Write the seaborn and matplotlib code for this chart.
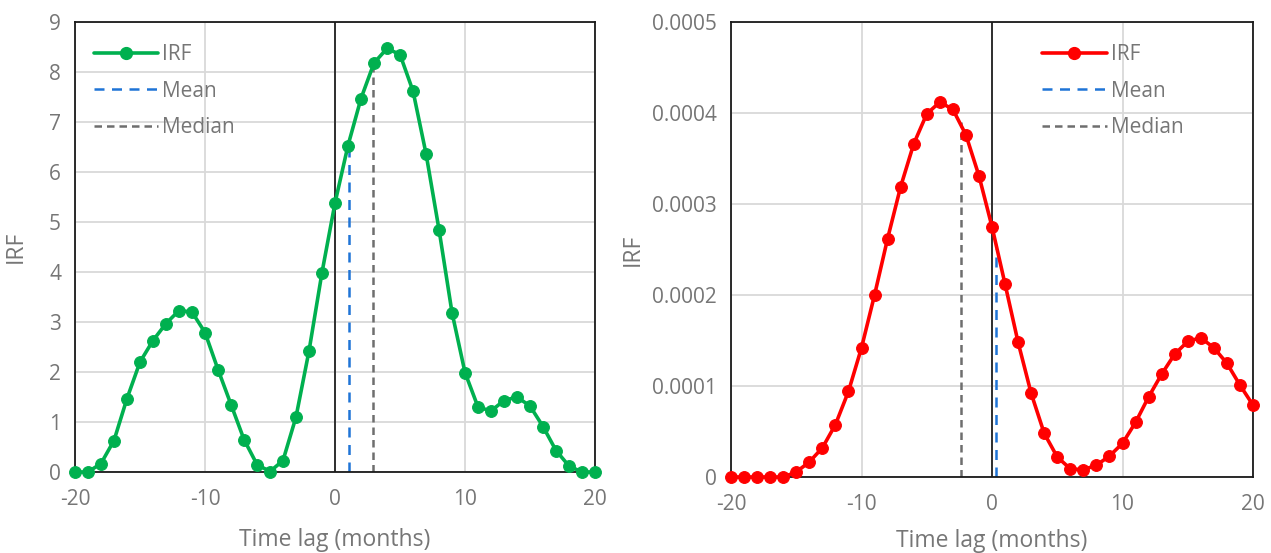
import numpy as np
import pandas as pd
import seaborn as sns
import matplotlib.pyplot as plt
from matplotlib.lines import Line2D

lags = list(range(-20, 21))

irf_left = [0, 0, 0.17, 0.63, 1.47, 2.2, 2.63, 2.97, 3.23, 3.2, 2.79,
            2.05, 1.35, 0.65, 0.15, 0.01, 0.23, 1.1, 2.42, 3.99, 5.38,
            6.53, 7.47, 8.18, 8.47, 8.35, 7.62, 6.37, 4.85, 3.19, 1.99,
            1.3, 1.22, 1.43, 1.5, 1.32, 0.91, 0.43, 0.12, 0, 0]
mean_left, mean_left_top = 1.08, 6.6
median_left, median_left_top = 2.9, 8.13

irf_right = [0, 0, 0, 0, 0, 0.055e-4, 0.165e-4, 0.32e-4, 0.575e-4, 0.94e-4,
             1.42e-4, 2.0e-4, 2.62e-4, 3.19e-4, 3.66e-4, 3.99e-4, 4.12e-4,
             4.04e-4, 3.76e-4, 3.31e-4, 2.75e-4, 2.12e-4, 1.48e-4, 0.92e-4,
             0.48e-4, 0.22e-4, 0.09e-4, 0.08e-4, 0.13e-4, 0.23e-4, 0.37e-4,
             0.6e-4, 0.88e-4, 1.13e-4, 1.35e-4, 1.49e-4, 1.53e-4, 1.42e-4,
             1.25e-4, 1.01e-4, 0.79e-4]
mean_right, mean_right_top = 0.33, 2.51e-4
median_right, median_right_top = -2.4, 3.9e-4

sns.set_style("white")
plt.rcParams['font.family'] = ['Open Sans', 'DejaVu Sans']
plt.rcParams['axes.unicode_minus'] = False
text_gray = '#767676'
grid_gray = '#d9d9d9'
blue = '#1f74d6'
dgray = '#6e6e6e'

fig = plt.figure(figsize=(12.71, 5.53), dpi=100)
ax1 = fig.add_axes([75 / 1271, 1 - 472 / 553, 520 / 1271, 450 / 553])
ax2 = fig.add_axes([731 / 1271, 1 - 477 / 553, 522 / 1271, 455 / 553])


def draw(ax, irf, color, mean, mean_top, median, median_top, ymax, ystep, fmt, legend_anchor, xlabelpad):
    df = pd.DataFrame({'lag': lags, 'irf': irf})
    ax.set_axisbelow(True)
    ax.grid(True, color=grid_gray, linewidth=1.3)
    ax.axvline(0, color='black', linewidth=1.1, zorder=1)
    ax.plot([mean, mean], [0, mean_top], color=blue, linestyle=(0, (4, 3)), linewidth=1.8, zorder=2)
    ax.plot([median, median], [0, median_top], color=dgray, linestyle=(0, (3, 2)), linewidth=1.8, zorder=2)
    sns.lineplot(data=df, x='lag', y='irf', ax=ax, color=color, linewidth=2.6,
                 marker='o', markersize=8.5, markeredgecolor=color, zorder=3, clip_on=False)
    ax.set_xlim(-20, 20)
    ax.set_ylim(0, ymax)
    ax.set_xticks([-20, -10, 0, 10, 20])
    ax.set_yticks(np.arange(0, ymax + ystep / 2, ystep))
    ax.set_yticklabels([fmt(v) for v in np.arange(0, ymax + ystep / 2, ystep)])
    ax.tick_params(axis='both', labelsize=15, colors=text_gray, length=0)
    ax.tick_params(axis='x', pad=12)
    ax.tick_params(axis='y', pad=10)
    ax.set_xlabel('Time lag (months)', fontsize=16.5, color=text_gray, labelpad=xlabelpad)
    ax.set_ylabel('IRF', fontsize=16.5, color=text_gray)
    for s in ax.spines.values():
        s.set_color('#1a1a1a')
        s.set_linewidth(1.3)
    handles = [
        Line2D([], [], color=color, linewidth=2.6, marker='o', markersize=8.5),
        Line2D([], [], color=blue, linestyle=(0, (4, 3)), linewidth=1.8),
        Line2D([], [], color=dgray, linestyle=(0, (3, 2)), linewidth=1.8),
    ]
    leg = ax.legend(handles, ['IRF', 'Mean', 'Median'], loc='upper left',
                    bbox_to_anchor=legend_anchor, frameon=False, fontsize=15,
                    handlelength=3.1, handletextpad=0.2, labelspacing=0.75)
    for t in leg.get_texts():
        t.set_color(text_gray)


draw(ax1, irf_left, '#00b04f', mean_left, mean_left_top, median_left, median_left_top,
     9, 1, lambda v: f'{v:.0f}', (0.0, 0.993), 13)
draw(ax2, irf_right, '#ff0000', mean_right, mean_right_top, median_right, median_right_top,
     0.0005, 0.0001, lambda v: '0' if v == 0 else f'{v:.4f}', (0.56, 0.993), 10)
ax1.yaxis.set_label_coords(-0.09, 0.5)
ax2.yaxis.set_label_coords(-0.165, 0.5)

fig.savefig('out.png', dpi=100)
